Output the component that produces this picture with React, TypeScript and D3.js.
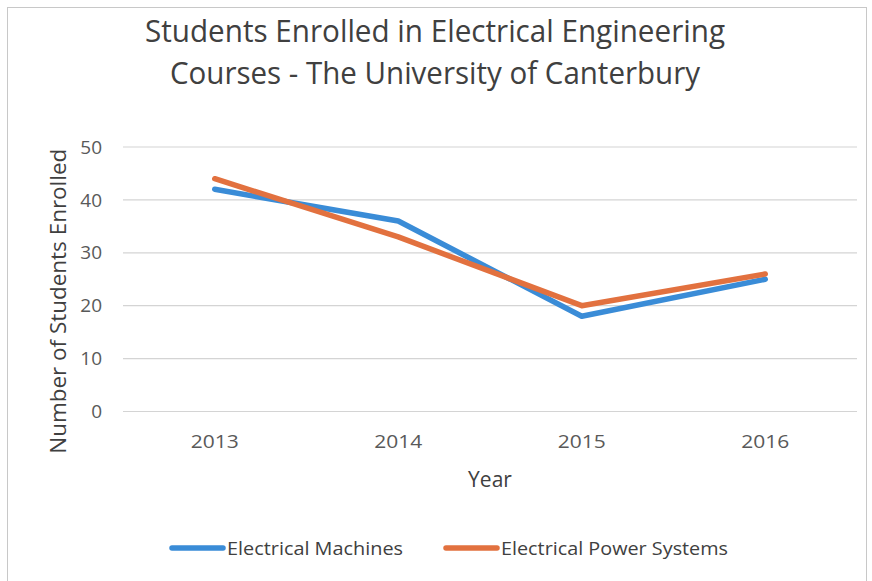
import React from "react";
import * as d3 from "d3";

const years = ["2013", "2014", "2015", "2016"];
const machines = [42, 36, 18, 25];
const powerSystems = [44, 33, 20, 26];
const yTicks = [0, 10, 20, 30, 40, 50];
const seriesNames = ["Electrical Machines", "Electrical Power Systems"];
const titleLines = ["Students Enrolled in Electrical Engineering", "Courses - The University of Canterbury"];

const W = 872;
const H = 581;
const FONT = "'Open Sans', 'Noto Sans', sans-serif";
const TXT = "#404040";

export default function App() {
  const left = 123, right = 857, top = 147, bottom = 411.5;
  const x = d3.scaleBand<string>().domain(years).range([left, right]);
  const y = d3.scaleLinear().domain([0, 50]).range([bottom, top]);
  const cx = (d: string) => (x(d) as number) + x.bandwidth() / 2;
  const line = d3.line<number>().x((_, i) => cx(years[i])).y((v) => y(v));
  const colors = ["#3a8cd7", "#e2713f"];
  const series = [machines, powerSystems];

  return (
    <svg width={W} height={H} style={{ position: "absolute", left: 0, top: 0, background: "#fff" }}>
      <rect x={0} y={0} width={W} height={H} fill="#fff" />
      <rect x={7.5} y={7.5} width={859} height={600} fill="none" stroke="#c8c8c8" strokeWidth={1} />
      {titleLines.map((t, i) => (
        <text key={t} x={435} y={42 + i * 42} textAnchor="middle" fontFamily={FONT} fontSize={31}
          fill={TXT} textLength={i === 0 ? 580 : 530} lengthAdjust="spacingAndGlyphs">{t}</text>
      ))}
      {yTicks.map((t) => (
        <g key={t}>
          <line x1={left} x2={right} y1={y(t)} y2={y(t)} stroke="#d4d4d4" strokeWidth={1.2} />
          <text x={102} y={y(t)} dy="0.35em" textAnchor="end" fontFamily={FONT} fontSize={19} fill="#595959">{t}</text>
        </g>
      ))}
      {years.map((yr) => (
        <text key={yr} x={cx(yr)} y={441} dy="0.35em" textAnchor="middle" fontFamily={FONT} fontSize={19} fill="#595959"
          textLength={48} lengthAdjust="spacingAndGlyphs">{yr}</text>
      ))}
      <text x={490} y={480} dy="0.35em" textAnchor="middle" fontFamily={FONT} fontSize={21} fill={TXT}>Year</text>
      <text transform={`translate(58, ${(top + bottom) / 2 + 22}) rotate(-90)`} textAnchor="middle" dy="0.35em"
        fontFamily={FONT} fontSize={22} fill={TXT} textLength={305} lengthAdjust="spacingAndGlyphs">Number of Students Enrolled</text>
      {series.map((s, i) => (
        <path key={i} d={line(s) || ""} fill="none" stroke={colors[i]} strokeWidth={5.5} strokeLinecap="round" strokeLinejoin="round" />
      ))}
      {seriesNames.map((n, i) => {
        const lx = i === 0 ? 172 : 446;
        const tw = i === 0 ? 176 : 227;
        return (
          <g key={n}>
            <line x1={lx} x2={lx + 51} y1={548} y2={548} stroke={colors[i]} strokeWidth={5.5} strokeLinecap="round" />
            <text x={lx + 55} y={548} dy="0.35em" fontFamily={FONT} fontSize={19} fill={TXT}
              textLength={tw} lengthAdjust="spacingAndGlyphs">{n}</text>
          </g>
        );
      })}
    </svg>
  );
}
